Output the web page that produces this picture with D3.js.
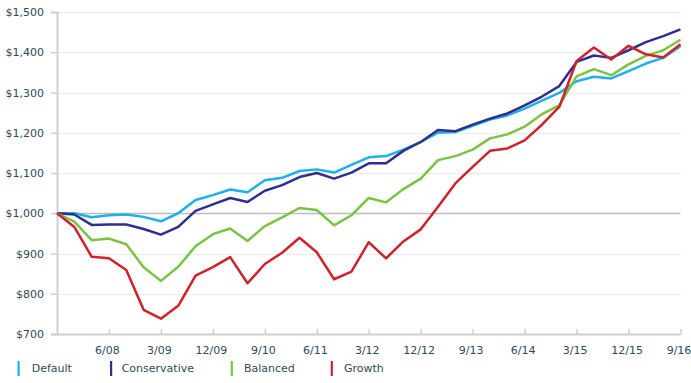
<!DOCTYPE html>
<html>
<head>
<meta charset="utf-8">
<script src="https://cdn.jsdelivr.net/npm/d3@7"></script>
<style>
  html, body { margin: 0; padding: 0; background: #fff; }
  svg { display: block; }
  text { font-family: "DejaVu Sans", Verdana, sans-serif; }
</style>
</head>
<body>
<svg id="chart" width="691" height="383"></svg>
<script>
// Quarterly periods, 9/07 .. 9/16
const quarters = ["9/07","12/07","3/08","6/08","9/08","12/08","3/09","6/09","9/09","12/09",
  "3/10","6/10","9/10","12/10","3/11","6/11","9/11","12/11","3/12","6/12","9/12","12/12",
  "3/13","6/13","9/13","12/13","3/14","6/14","9/14","12/14","3/15","6/15","9/15","12/15",
  "3/16","6/16","9/16"];
const xTickLabels = ["6/08","3/09","12/09","9/10","6/11","3/12","12/12","9/13","6/14","3/15","12/15","9/16"];
const yTicks = [700, 800, 900, 1000, 1100, 1200, 1300, 1400, 1500];

const seriesNames = ["Default", "Conservative", "Balanced", "Growth"];
const seriesColors = ["#1fb0ec", "#2e2f8e", "#7cc243", "#d0222b"];

const defaultValues = [1000,1000,990,995,997,991,980,1000,1033,1045,1059,1052,1082,1088,1105,1109,1101,1120,1139,1142,1158,1177,1200,1202,1217,1233,1243,1260,1280,1299,1328,1339,1335,1353,1372,1386,1415];
const conservativeValues = [1000,997,971,972,972,961,947,966,1006,1022,1038,1028,1056,1070,1090,1100,1086,1101,1124,1124,1155,1177,1207,1204,1220,1235,1248,1268,1290,1316,1376,1392,1386,1405,1425,1440,1457];
const balancedValues = [1000,979,933,937,923,866,832,867,918,948,962,931,968,990,1013,1008,970,995,1038,1027,1060,1086,1132,1142,1158,1186,1196,1215,1246,1268,1340,1358,1343,1370,1391,1405,1431];
const growthValues = [1000,966,892,888,859,760,738,770,845,866,891,826,874,902,939,903,836,855,928,888,930,960,1016,1074,1115,1155,1161,1181,1220,1264,1378,1412,1382,1416,1395,1387,1420];

const seriesValues = [defaultValues, conservativeValues, balancedValues, growthValues];

const svg = d3.select("#chart");
const mLeft = 57, mRight = 680.5, mTop = 12, mBottom = 334;

const x = d3.scalePoint().domain(quarters).range([mLeft, mRight]);
const y = d3.scaleLinear().domain([700, 1500]).range([mBottom, mTop]);

const textColor = "#2d4a58";

// gridlines
svg.append("g").selectAll("line")
  .data(yTicks.filter(d => d !== 700))
  .join("line")
  .attr("x1", mLeft).attr("x2", mRight)
  .attr("y1", d => Math.round(y(d)) + 0.5).attr("y2", d => Math.round(y(d)) + 0.5)
  .attr("stroke", d => d === 1000 ? "#bdbdbd" : "#ebebeb")
  .attr("stroke-width", d => d === 1000 ? 1.5 : 1);

// y axis
const yAxis = svg.append("g")
  .attr("transform", `translate(${mLeft},0)`)
  .call(d3.axisLeft(y).tickValues(yTicks).tickFormat(d3.format("$,.0f")).tickSize(6).tickPadding(7));
yAxis.select(".domain").attr("stroke", "#cfcfcf").attr("stroke-width", 2);
yAxis.selectAll(".tick line").attr("stroke", "#cfcfcf").attr("stroke-width", 1.5);
yAxis.selectAll(".tick text").attr("fill", textColor).attr("font-size", 11)
  .style("font-family", '"DejaVu Sans", Verdana, sans-serif');

// x axis (ticks pointing inward)
const xAxis = svg.append("g")
  .attr("transform", `translate(0,${mBottom})`)
  .call(d3.axisBottom(x).tickValues(xTickLabels).tickSizeInner(-5).tickSizeOuter(0).tickPadding(12));
xAxis.select(".domain").attr("stroke", "#cfcfcf").attr("stroke-width", 2);
xAxis.selectAll(".tick line").attr("stroke", "#cfcfcf").attr("stroke-width", 1.5);
xAxis.selectAll(".tick text").attr("fill", textColor).attr("font-size", 11)
  .attr("dx", -2)
  .style("font-family", '"DejaVu Sans", Verdana, sans-serif');

// lines
const line = d3.line().x((d, i) => x(quarters[i])).y(d => y(d));
svg.append("g").selectAll("path")
  .data(seriesValues)
  .join("path")
  .attr("d", d => line(d))
  .attr("fill", "none")
  .attr("stroke", (d, i) => seriesColors[i])
  .attr("stroke-width", 2.5)
  .attr("stroke-linejoin", "round");

// legend
const legendBarX = [18.5, 111, 231.7, 331.7];
const legendTextX = [31.7, 121.7, 244, 344];
const lg = svg.append("g").selectAll("g")
  .data(seriesNames)
  .join("g");
lg.append("rect")
  .attr("x", (d, i) => legendBarX[i] - 1).attr("y", 361).attr("width", 2.2).attr("height", 15)
  .attr("fill", (d, i) => seriesColors[i]);
lg.append("text")
  .attr("x", (d, i) => legendTextX[i]).attr("y", 372)
  .attr("font-size", 11)
  .attr("fill", textColor)
  .text(d => d);
</script>
</body>
</html>
